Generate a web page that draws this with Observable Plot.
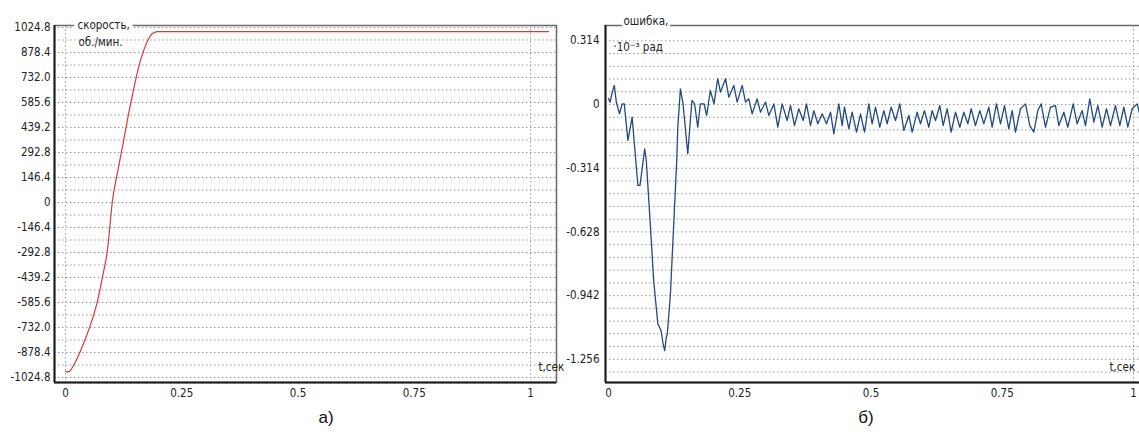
<!DOCTYPE html>
<html>
<head>
<meta charset="utf-8">
<script src="https://cdn.jsdelivr.net/npm/d3@7"></script>
<script src="https://cdn.jsdelivr.net/npm/@observablehq/plot@0.6"></script>
<style>
  html, body { margin: 0; padding: 0; background: #fff; }
  body { width: 1139px; height: 439px; overflow: hidden; position: relative; }
  .panel { position: absolute; top: 0; }
  .panel svg { max-width: none !important; }
  .cap { position: absolute; font-family: "Liberation Sans", Arial, sans-serif; font-size: 17px; color: #111; transform: translateX(-50%); }
</style>
</head>
<body>
<div id="left" class="panel" style="left:0px; width:560px"></div>
<div id="right" class="panel" style="left:556px; width:600px"></div>
<div class="cap" style="left:326px; top:408px">а)</div>
<div class="cap" style="left:866px; top:408px">б)</div>
<script>
// ---- data ----
const timeTicks = [0, 0.25, 0.5, 0.75, 1];
const timeTickLabels = ["0", "0.25", "0.5", "0.75", "1"];

const speedTicks = [1024.8, 878.4, 732.0, 585.6, 439.2, 292.8, 146.4, 0, -146.4, -292.8, -439.2, -585.6, -732.0, -878.4, -1024.8];
const speedTickLabels = ["1024.8", "878.4", "732.0", "585.6", "439.2", "292.8", "146.4", "0", "-146.4", "-292.8", "-439.2", "-585.6", "-732.0", "-878.4", "-1024.8"];

const errTicks = [0.314, 0, -0.314, -0.628, -0.942, -1.256];
const errTickLabels = ["0.314", "0", "-0.314", "-0.628", "-0.942", "-1.256"];

// speed, rpm (t in s)
const speedT = [0, 0.005, 0.01, 0.015, 0.026, 0.036, 0.047, 0.058, 0.069, 0.08, 0.09, 0.101, 0.112, 0.125, 0.135, 0.146, 0.157, 0.168, 0.178, 0.187, 0.198, 0.205, 1.039];
const speedV = [-990, -992, -985, -965, -907, -845, -767, -680, -574, -430, -281, 12, 180, 363, 510, 656, 790, 890, 955, 990, 1001, 1001, 1001];

// error, 1e-3 rad
const errT = [0, 0.003, 0.007, 0.011, 0.015, 0.021, 0.026, 0.030, 0.037, 0.045, 0.056, 0.060, 0.069, 0.072, 0.080, 0.086, 0.094, 0.100, 0.104, 0.107, 0.110, 0.112, 0.118, 0.124, 0.130, 0.132, 0.137, 0.142, 0.151, 0.159, 0.164, 0.170, 0.175, 0.182, 0.187, 0.194, 0.201, 0.208,
  0.2133, 0.2229, 0.2292, 0.2387, 0.2451, 0.2546, 0.2610, 0.2673, 0.2737, 0.2832, 0.2895, 0.2991, 0.3054, 0.3149, 0.3225, 0.3308, 0.3403, 0.3467, 0.3543, 0.3625, 0.3708, 0.3771, 0.3848, 0.3911, 0.3987, 0.4070, 0.4152, 0.4229, 0.4292, 0.4387, 0.4451, 0.4495, 0.4578, 0.4641, 0.4724, 0.4800, 0.4876, 0.4959, 0.5022, 0.5086, 0.5168, 0.5244, 0.5308, 0.5384, 0.5467, 0.5549, 0.5625, 0.5721, 0.5784, 0.5879, 0.5943, 0.6019, 0.6102, 0.6165, 0.6229, 0.6311, 0.6375, 0.6451, 0.6527, 0.6610, 0.6692, 0.6768, 0.6845, 0.6908, 0.6990, 0.7073, 0.7149, 0.7244, 0.7308, 0.7390, 0.7467, 0.7543, 0.7625, 0.7689, 0.7752, 0.7848, 0.7943, 0.8025, 0.8102, 0.8178, 0.8241, 0.8324, 0.8419, 0.8514, 0.8578, 0.8673, 0.8749, 0.8851, 0.8927, 0.9022, 0.9086, 0.9168, 0.9244, 0.9321, 0.9403, 0.9486, 0.9562, 0.9657, 0.9740, 0.9816, 0.9892, 0.9975, 1.0070, 1.0133, 1.0200];
const errV = [0.030, 0.011, 0.060, 0.094, 0.011, -0.046, 0.003, 0.003, -0.177, -0.062, -0.399, -0.399, -0.219, -0.276, -0.605, -0.868, -1.081, -1.114, -1.180, -1.213, -1.150, -1.130, -0.933, -0.605, -0.276, -0.112, 0.077, 0.003, -0.243, 0.020, 0.003, -0.112, 0.003, 0.003, -0.054, 0.069, 0.003, 0.127,
  0.061, 0.127, 0.036, 0.094, 0.012, 0.094, 0.012, 0.028, -0.046, 0.028, -0.038, 0.012, -0.054, 0.003, -0.112, 0.003, -0.079, -0.005, -0.104, -0.021, -0.079, 0.003, -0.104, -0.030, -0.095, -0.046, -0.095, -0.038, -0.145, 0.003, -0.104, -0.013, -0.120, -0.038, -0.136, -0.046, -0.136, 0.003, -0.095, -0.013, -0.112, -0.030, -0.095, -0.013, -0.079, 0.003, -0.128, -0.054, -0.136, -0.038, -0.095, -0.030, -0.112, -0.030, -0.079, -0.005, -0.104, -0.021, -0.136, -0.038, -0.112, -0.038, -0.095, -0.021, -0.104, -0.030, -0.095, -0.013, -0.112, 0.003, -0.095, -0.005, -0.120, -0.030, -0.136, -0.021, 0.003, -0.104, -0.136, -0.030, 0.003, -0.112, -0.013, -0.005, -0.104, -0.038, -0.112, 0.003, -0.095, -0.030, -0.104, 0.028, -0.087, -0.005, -0.112, -0.021, -0.104, -0.005, -0.104, -0.013, -0.112, -0.021, 0.003, -0.062, -0.030];

// ---- build tables ----
const speed = speedT.map((t, i) => ({t, v: speedV[i]}));
const err = errT.map((t, i) => ({t, v: errV[i]}));
const speedLabel = new Map(speedTicks.map((d, i) => [d, speedTickLabels[i]]));
const errLabel = new Map(errTicks.map((d, i) => [d, errTickLabels[i]]));
const timeLabel = new Map(timeTicks.map((d, i) => [d, timeTickLabels[i]]));

const speedGrid = d3.range(-14, 15).map(i => i * 73.2);
const errGrid = d3.range(-21, 6).map(i => i * 0.0628);

const FONT = '"DejaVu Sans Condensed", "Liberation Sans Narrow", sans-serif';
const gridStyle = {stroke: "#9a9a9a", strokeWidth: 1, strokeDasharray: "1.5,2.5"};

const leftX = [-0.0237, 1.0559], leftY = [-1054, 1036.5];
const rightX = [-0.0057, 1.0324], rightY = [-1.3703, 0.3894];

const left = Plot.plot({
  width: 560, height: 405,
  marginLeft: 54, marginRight: 4, marginTop: 25, marginBottom: 23,
  x: {domain: leftX}, y: {domain: leftY},
  style: {fontFamily: FONT, fontSize: "11.5px", color: "#222", background: "transparent", overflow: "visible"},
  marks: [
    Plot.ruleY(speedGrid, gridStyle),
    Plot.ruleX([0, 1], gridStyle),
    Plot.frame({stroke: "#6a6a6a", strokeWidth: 1.5}),
    Plot.ruleX([leftX[0]], {stroke: "#1a1a1a", strokeWidth: 2}),
    Plot.ruleY([leftY[0]], {stroke: "#1a1a1a", strokeWidth: 2}),
    Plot.line(speed, {x: "t", y: "v", stroke: "#d63a3c", strokeWidth: 1.2, curve: "monotone-x"}),
    Plot.axisY(speedTicks, {tickSize: 0, tickPadding: 4, label: null, tickFormat: d => speedLabel.get(d)}),
    Plot.axisX(timeTicks, {tickSize: 0, tickPadding: 6, label: null, tickFormat: d => timeLabel.get(d)}),
    Plot.text(["скорость,"], {frameAnchor: "top-left", dx: 23, dy: -5, textAnchor: "start", stroke: "white", strokeWidth: 8, fill: "#222"}),
    Plot.text(["об./мин."], {frameAnchor: "top-left", dx: 24, dy: 12, textAnchor: "start", fill: "#222"}),
    Plot.text(["t,сек"], {x: 1, frameAnchor: "bottom", dx: 8, dy: -12, textAnchor: "start", fill: "#222"})
  ]
});
document.getElementById("left").appendChild(left);

const right = Plot.plot({
  width: 600, height: 405,
  marginLeft: 49, marginRight: 6, marginTop: 25, marginBottom: 23,
  x: {domain: rightX}, y: {domain: rightY},
  style: {fontFamily: FONT, fontSize: "11.5px", color: "#222", background: "transparent", overflow: "visible"},
  marks: [
    Plot.ruleY(errGrid, gridStyle),
    Plot.ruleX([1], gridStyle),
    Plot.frame({stroke: "#6a6a6a", strokeWidth: 1.5}),
    Plot.ruleX([rightX[0]], {stroke: "#1a1a1a", strokeWidth: 2}),
    Plot.ruleY([rightY[0]], {stroke: "#1a1a1a", strokeWidth: 2}),
    Plot.line(err, {x: "t", y: "v", stroke: "#234a7e", strokeWidth: 1.3}),
    Plot.axisY(errTicks, {tickSize: 0, tickPadding: 6, label: null, tickFormat: d => errLabel.get(d)}),
    Plot.axisX(timeTicks, {tickSize: 0, tickPadding: 6, label: null, tickFormat: d => timeLabel.get(d)}),
    Plot.text(["ошибка,"], {frameAnchor: "top-left", dx: 18, dy: -9, textAnchor: "start", stroke: "white", strokeWidth: 6, fill: "#222"}),
    Plot.text(["·10⁻³ рад"], {frameAnchor: "top-left", dx: 8, dy: 17, textAnchor: "start", fill: "#222"}),
    Plot.text(["t,сек"], {x: 1, frameAnchor: "bottom", dx: -24, dy: -12, textAnchor: "start", fill: "#222"})
  ]
});
document.getElementById("right").appendChild(right);
</script>
</body>
</html>
